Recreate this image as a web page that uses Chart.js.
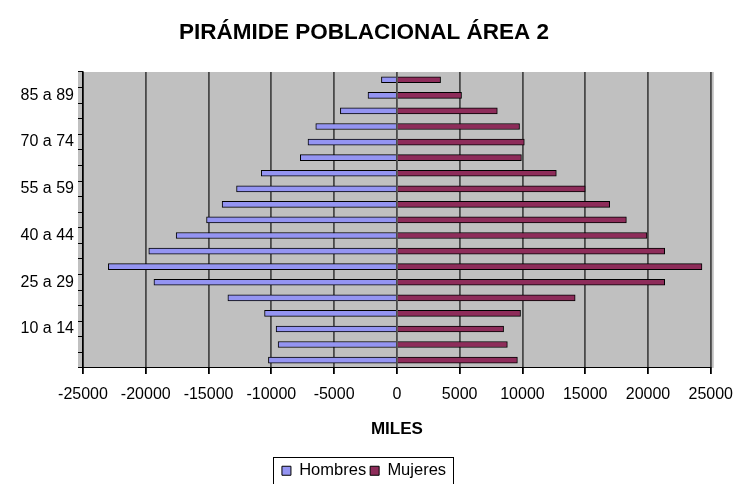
<!DOCTYPE html>
<html><head><meta charset="utf-8">
<script src="https://cdn.jsdelivr.net/npm/chart.js@4/dist/chart.umd.min.js"></script>
<style>html,body{margin:0;padding:0;background:#fff}#wrap{width:744px;height:484px}</style>
</head><body><div id="wrap"><canvas id="c"></canvas></div>
<script>
const ageGroups = ['0 a 4','5 a 9','10 a 14','15 a 19','20 a 24','25 a 29','30 a 34','35 a 39','40 a 44','45 a 49','50 a 54','55 a 59','60 a 64','65 a 69','70 a 74','75 a 79','80 a 84','85 a 89','90 y más'];
const hombres = [-10230,-9460,-9620,-10540,-13460,-19350,-22980,-19760,-17580,-15160,-13920,-12770,-10800,-7690,-7080,-6460,-4500,-2300,-1230];
const mujeres = [9600,8800,8500,9850,14200,21330,24300,21330,19920,18280,16950,15000,12700,9920,10150,9770,8000,5150,3480];
const xTicks = [-25000,-20000,-15000,-10000,-5000,0,5000,10000,15000,20000,25000];

const FONT = '"Liberation Sans", Arial, sans-serif';

const deco = {
  id: 'deco',
  beforeDraw(chart) {
    const {ctx, chartArea: a} = chart;
    ctx.save();
    ctx.fillStyle = '#c0c0c0';
    ctx.fillRect(a.left - 5, a.top, a.right - a.left + 8, a.bottom - a.top);
    ctx.restore();
  },
  afterDraw(chart) {
    const boxes = chart.legend && chart.legend.legendHitBoxes;
    if (!boxes || !boxes.length) return;
    let l = Infinity, r = -Infinity, t = Infinity, b = -Infinity;
    boxes.forEach(h => { l = Math.min(l, h.left); r = Math.max(r, h.left + h.width); t = Math.min(t, h.top); b = Math.max(b, h.top + h.height); });
    const ctx = chart.ctx;
    ctx.save();
    ctx.strokeStyle = '#000';
    ctx.lineWidth = 1;
    ctx.strokeRect(Math.round(l - 9) + 0.5, Math.round(t - 6) + 0.5, Math.round(r - l + 16), Math.round(b - t + 12));
    ctx.restore();
  }
};

new Chart(document.getElementById('c'), {
  type: 'bar',
  data: {
    labels: ageGroups,
    datasets: [
      { label: 'Hombres', data: hombres, backgroundColor: '#9494f2', borderColor: '#000', borderWidth: 1, barThickness: 6 },
      { label: 'Mujeres', data: mujeres, backgroundColor: '#8e2c5a', borderColor: '#000', borderWidth: 1, barThickness: 6 }
    ]
  },
  options: {
    indexAxis: 'y',
    responsive: true,
    maintainAspectRatio: false,
    animation: false,
    layout: { padding: { left: 8, right: 24, top: 0, bottom: -5 } },
    scales: {
      x: {
        stacked: true,
        min: -25000, max: 25000,
        afterBuildTicks(scale) { scale.ticks = xTicks.map(v => ({ value: v })); },
        ticks: { color: '#000', font: { family: FONT, size: 16 }, padding: 11, maxRotation: 0, autoSkip: false, callback: v => String(v) },
        grid: { color: '#4a4a4a', lineWidth: 1.8, drawTicks: true, tickLength: 6, tickColor: '#000' },
        border: { display: true, color: '#000', width: 1 },
        title: { display: true, text: 'MILES', color: '#000', font: { family: FONT, size: 17, weight: 'bold' }, padding: { top: 4, bottom: 19 } }
      },
      y: {
        stacked: true,
        reverse: true,
        afterFit(scale) { scale.width = 75; },
        ticks: { color: '#000', font: { family: FONT, size: 16 }, autoSkip: false, padding: 4,
          callback: function(v, i) { return i % 3 === 2 ? this.getLabelForValue(v) : ''; } },
        grid: { drawOnChartArea: false, drawTicks: true, tickLength: 5, tickColor: '#000' },
        border: { display: true, color: '#000', width: 1.5 }
      }
    },
    plugins: {
      title: { display: true, text: 'PIRÁMIDE POBLACIONAL ÁREA 2', color: '#000', font: { family: FONT, size: 22.5, weight: 'bold' }, padding: { top: 19, bottom: 26 } },
      legend: { position: 'bottom', labels: { color: '#000', font: { family: FONT, size: 16.5 }, boxWidth: 9, boxHeight: 9, padding: 4 } },
      tooltip: { callbacks: { label: c => c.dataset.label + ': ' + Math.abs(c.raw) } }
    }
  },
  plugins: [deco]
});
</script></body></html>
